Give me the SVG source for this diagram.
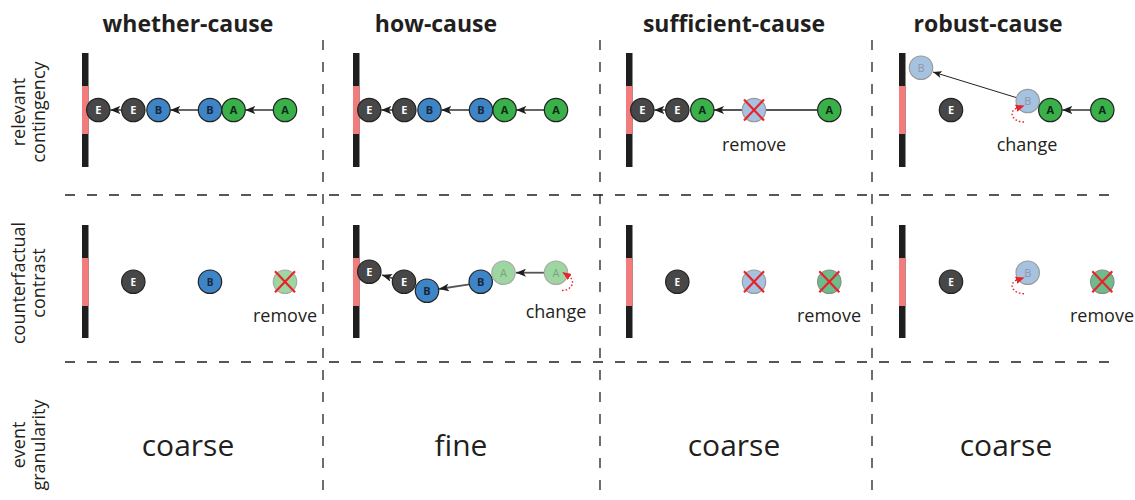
<svg xmlns="http://www.w3.org/2000/svg" width="1135" height="500" viewBox="0 0 1135 500">
<style>
.hd{font-family:"Open Sans","Liberation Sans",sans-serif;font-weight:bold;font-size:23px;fill:#231f20;text-anchor:middle}
.rl{font-family:"Open Sans","Liberation Sans",sans-serif;font-size:18px;fill:#231f20;text-anchor:middle}
.lb{font-family:"Open Sans","Liberation Sans",sans-serif;font-size:18px;fill:#231f20;text-anchor:middle}
.big{font-family:"Open Sans","Liberation Sans",sans-serif;font-size:30px;fill:#231f20;text-anchor:middle}
.div{stroke:#231f20;stroke-width:1.3;stroke-dasharray:10 12;fill:none}
.blk{fill:#1e1e1e}
.pnk{fill:#f27c7c}
.n circle{stroke:#222;stroke-width:1.2}
.n text{font-family:"Open Sans","Liberation Sans",sans-serif;font-weight:bold;font-size:11px;text-anchor:middle}
.e circle{fill:#474747}
.e text{fill:#ffffff}
.b circle{fill:#3d85c6}
.b text{fill:#1a2738}
.a circle{fill:#39b04a}
.a text{fill:#0f2a14}
.fb circle{fill:#a5c3e1;stroke:#9a9a9a}
.fb text{fill:#8c96a6;font-weight:normal}
.fa circle{fill:#9dd6a0;stroke:#a8a8a8}
.fa text{fill:#7f9f82;font-weight:normal}
.ta circle{fill:#6cbd8c;stroke:#8a8a8a}
.x{stroke:#e8242a;stroke-width:2.2}
.ar{stroke:#555;stroke-width:1.8;fill:none;marker-end:url(#ah)}
.ar2{stroke:#222;stroke-width:1;fill:none;marker-end:url(#ah2)}
.rd{stroke:#e8242a;stroke-width:1.4;stroke-dasharray:1.6 2;fill:none;marker-end:url(#rh)}
</style>
<defs>
<marker id="ah" viewBox="0 0 10 8" refX="10" refY="4" markerWidth="10" markerHeight="8" markerUnits="userSpaceOnUse" orient="auto">
<path d="M0,0 L10,4 L0,8 L2.5,4 z" fill="#1e1e1e"/>
</marker>
<marker id="ah2" viewBox="0 0 10 8" refX="10" refY="4" markerWidth="9" markerHeight="7" markerUnits="userSpaceOnUse" orient="auto">
<path d="M0,0 L10,4 L0,8 L2.5,4 z" fill="#1e1e1e"/>
</marker>
<marker id="rh" viewBox="0 0 10 8" refX="1" refY="4" markerWidth="9" markerHeight="8" markerUnits="userSpaceOnUse" orient="auto">
<path d="M0,0 L10,4 L0,8 z" fill="#e8242a"/>
</marker>
</defs>

<g id="grid">
<line class="div" x1="323" y1="40" x2="323" y2="500"/>
<line class="div" x1="600" y1="40" x2="600" y2="500"/>
<line class="div" x1="872" y1="40" x2="872" y2="500"/>
<line class="div" x1="65" y1="195" x2="1115" y2="195"/>
<line class="div" x1="65" y1="362" x2="1115" y2="362"/>
</g>

<g id="headers">
<text class="hd" x="188" y="32">whether-cause</text>
<text class="hd" x="436" y="32">how-cause</text>
<text class="hd" x="734" y="32">sufficient-cause</text>
<text class="hd" x="988" y="32">robust-cause</text>
</g>

<g id="row-labels">
<g transform="translate(0,112) rotate(-90)">
<text class="rl" x="0" y="25">relevant</text>
<text class="rl" x="0" y="45">contingency</text>
</g>
<g transform="translate(0,283) rotate(-90)">
<text class="rl" x="0" y="25">counterfactual</text>
<text class="rl" x="0" y="45">contrast</text>
</g>
<g transform="translate(0,445) rotate(-90)">
<text class="rl" x="0" y="25">event</text>
<text class="rl" x="0" y="45">granularity</text>
</g>
</g>

<g id="walls">
<rect class="blk" x="82" y="53" width="6.5" height="114"/><rect class="pnk" x="82" y="86" width="6.5" height="48"/>
<rect class="blk" x="353" y="53" width="6.5" height="114"/><rect class="pnk" x="353" y="86" width="6.5" height="48"/>
<rect class="blk" x="626" y="53" width="6.5" height="114"/><rect class="pnk" x="626" y="86" width="6.5" height="48"/>
<rect class="blk" x="899" y="53" width="6.5" height="114"/><rect class="pnk" x="899" y="86" width="6.5" height="48"/>
<rect class="blk" x="82" y="225" width="6.5" height="113"/><rect class="pnk" x="82" y="258" width="6.5" height="48"/>
<rect class="blk" x="353" y="225" width="6.5" height="113"/><rect class="pnk" x="353" y="258" width="6.5" height="48"/>
<rect class="blk" x="626" y="225" width="6.5" height="113"/><rect class="pnk" x="626" y="258" width="6.5" height="48"/>
<rect class="blk" x="899" y="225" width="6.5" height="113"/><rect class="pnk" x="899" y="258" width="6.5" height="48"/>
</g>

<g id="connectors">
<line class="ar" x1="121.6" y1="110" x2="110.3" y2="110"/>
<line class="ar" x1="198.3" y1="110" x2="170.3" y2="110"/>
<line class="ar" x1="273.3" y1="110" x2="245.3" y2="110"/>
<line class="ar" x1="392.6" y1="110" x2="381.3" y2="110"/>
<line class="ar" x1="469.3" y1="110" x2="441.3" y2="110"/>
<line class="ar" x1="544.3" y1="110" x2="516.3" y2="110"/>
<line class="ar" x1="665.6" y1="110" x2="654.3" y2="110"/>
<line class="ar" x1="817.3" y1="110" x2="714" y2="110"/>
<line class="ar" x1="1090.3" y1="110" x2="1062.3" y2="110"/>
<line class="ar2" x1="1016" y1="97.5" x2="933" y2="72"/>
<line class="ar" x1="392.8" y1="278.3" x2="382" y2="275"/>
<line class="ar" x1="469.3" y1="284.3" x2="439" y2="289"/>
<line class="ar" x1="544.3" y1="272.7" x2="516" y2="272.7"/>
</g>

<!-- whether-cause row 1 -->
<g id="w1-E" class="n e"><circle cx="98.3" cy="110" r="11.7"/><text x="98.3" y="114">E</text></g>
<g id="w1-E2" class="n e"><circle cx="133.3" cy="110" r="11.7"/><text x="133.3" y="114">E</text></g>
<g id="w1-B" class="n b"><circle cx="158.5" cy="110" r="11.7"/><text x="158.5" y="114">B</text></g>
<g id="w1-B2" class="n b"><circle cx="210" cy="110" r="11.7"/><text x="210" y="114">B</text></g>
<g id="w1-A" class="n a"><circle cx="233.6" cy="110" r="11.7"/><text x="233.6" y="114">A</text></g>
<g id="w1-A2" class="n a"><circle cx="285" cy="110" r="11.7"/><text x="285" y="114">A</text></g>

<!-- how-cause row 1 -->
<g id="h1-E" class="n e"><circle cx="369.3" cy="110" r="11.7"/><text x="369.3" y="114">E</text></g>
<g id="h1-E2" class="n e"><circle cx="404.3" cy="110" r="11.7"/><text x="404.3" y="114">E</text></g>
<g id="h1-B" class="n b"><circle cx="429.5" cy="110" r="11.7"/><text x="429.5" y="114">B</text></g>
<g id="h1-B2" class="n b"><circle cx="481" cy="110" r="11.7"/><text x="481" y="114">B</text></g>
<g id="h1-A" class="n a"><circle cx="504.6" cy="110" r="11.7"/><text x="504.6" y="114">A</text></g>
<g id="h1-A2" class="n a"><circle cx="556" cy="110" r="11.7"/><text x="556" y="114">A</text></g>

<!-- sufficient-cause row 1 -->
<g id="s1-E" class="n e"><circle cx="642.3" cy="110" r="11.7"/><text x="642.3" y="114">E</text></g>
<g id="s1-E2" class="n e"><circle cx="677.3" cy="110" r="11.7"/><text x="677.3" y="114">E</text></g>
<g id="s1-A" class="n a"><circle cx="702.3" cy="110" r="11.7"/><text x="702.3" y="114">A</text></g>
<g id="s1-Bx" class="n fb"><circle cx="754" cy="110" r="11.7"/><line class="x" x1="744" y1="99.5" x2="764" y2="120.5"/><line class="x" x1="764" y1="99.5" x2="744" y2="120.5"/></g>
<g id="s1-A2" class="n a"><circle cx="829.3" cy="110" r="11.7"/><text x="829.3" y="114">A</text></g>
<text class="lb" x="754" y="151">remove</text>

<!-- robust-cause row 1 -->
<g id="r1-Bnew" class="n fb"><circle cx="921" cy="67.7" r="11.7"/><text x="921" y="71.7">B</text></g>
<g id="r1-E" class="n e"><circle cx="951" cy="110" r="11.7"/><text x="951" y="114">E</text></g>
<g id="r1-B" class="n fb"><circle cx="1027.7" cy="101" r="11.7"/><text x="1027.7" y="105">B</text></g>
<g id="r1-A" class="n a"><circle cx="1050.3" cy="110" r="11.7"/><text x="1050.3" y="114">A</text></g>
<g id="r1-A2" class="n a"><circle cx="1102.3" cy="110" r="11.7"/><text x="1102.3" y="114">A</text></g>
<text class="lb" x="1027" y="151">change</text>

<!-- whether-cause row 2 -->
<g id="w2-E" class="n e"><circle cx="133.3" cy="281.7" r="11.7"/><text x="133.3" y="285.5" style="font-size:10px">E</text></g>
<g id="w2-B" class="n b"><circle cx="210" cy="281.7" r="11.7"/><text x="210" y="285.5" style="font-size:10px">B</text></g>
<g id="w2-Ax" class="n fa"><circle cx="285" cy="281.7" r="11.7"/><line class="x" x1="275" y1="271.2" x2="295" y2="292.2"/><line class="x" x1="295" y1="271.2" x2="275" y2="292.2"/></g>
<text class="lb" x="285" y="322">remove</text>

<!-- how-cause row 2 -->
<g id="h2-E" class="n e"><circle cx="369.3" cy="271.7" r="11.7"/><text x="369.3" y="275.7">E</text></g>
<g id="h2-E2" class="n e"><circle cx="404" cy="281.7" r="11.7"/><text x="404" y="285.7">E</text></g>
<g id="h2-B" class="n b"><circle cx="427" cy="290.7" r="11.7"/><text x="427" y="294.7">B</text></g>
<g id="h2-B2" class="n b"><circle cx="480.7" cy="281.7" r="11.7"/><text x="480.7" y="285.7">B</text></g>
<g id="h2-A" class="n fa"><circle cx="503.5" cy="272.7" r="11.7"/><text x="503.5" y="276.7">A</text></g>
<g id="h2-A2" class="n fa"><circle cx="556" cy="272.7" r="11.7"/><text x="556" y="276.7">A</text></g>
<text class="lb" x="556" y="318">change</text>

<!-- sufficient-cause row 2 -->
<g id="s2-E" class="n e"><circle cx="677.3" cy="281.7" r="11.7"/><text x="677.3" y="285.5" style="font-size:10px">E</text></g>
<g id="s2-Bx" class="n fb"><circle cx="754" cy="281.7" r="11.7"/><line class="x" x1="744" y1="271.2" x2="764" y2="292.2"/><line class="x" x1="764" y1="271.2" x2="744" y2="292.2"/></g>
<g id="s2-Ax" class="n ta"><circle cx="829.3" cy="281.7" r="11.7"/><line class="x" x1="819.3" y1="271.2" x2="839.3" y2="292.2"/><line class="x" x1="839.3" y1="271.2" x2="819.3" y2="292.2"/></g>
<text class="lb" x="829" y="322">remove</text>

<!-- robust-cause row 2 -->
<g id="r2-E" class="n e"><circle cx="951" cy="281.7" r="11.7"/><text x="951" y="285.5" style="font-size:10px">E</text></g>
<g id="r2-B" class="n fb"><circle cx="1027.7" cy="272.7" r="11.7"/><text x="1027.7" y="276.7">B</text></g>
<g id="r2-Ax" class="n ta"><circle cx="1102.3" cy="281.7" r="11.7"/><line class="x" x1="1092.3" y1="271.2" x2="1112.3" y2="292.2"/><line class="x" x1="1112.3" y1="271.2" x2="1092.3" y2="292.2"/></g>
<text class="lb" x="1102" y="322">remove</text>

<g id="change-arrows">
<path class="rd" d="M1024,122 C1012,122 1008,111 1017,108"/>
<path class="rd" d="M562,290.5 C572,290.5 576,281 569,276.5"/>
<path class="rd" d="M1024,293.7 C1012,293.7 1008,283 1017,280"/>
</g>

<g id="granularity">
<text class="big" x="188" y="456">coarse</text>
<text class="big" x="461" y="456">fine</text>
<text class="big" x="734" y="456">coarse</text>
<text class="big" x="1006" y="456">coarse</text>
</g>
</svg>
